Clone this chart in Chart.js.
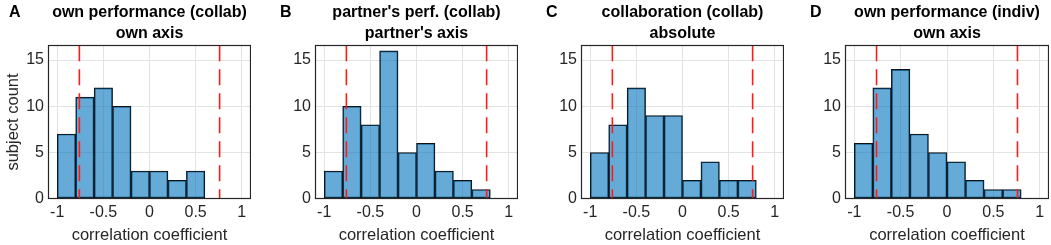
<!DOCTYPE html>
<html>
<head>
<meta charset="utf-8">
<script src="https://cdn.jsdelivr.net/npm/chart.js@4"></script>
<style>
  body { margin: 0; background: #fff; }
  #wrap { position: relative; width: 1051px; height: 245px; }
  #wrap canvas { position: absolute; top: 0; }
</style>
</head>
<body>
<div id="wrap"></div>
<script>
// ── data ──────────────────────────────────────────────
const binCenters = [-0.9, -0.7, -0.5, -0.3, -0.1, 0.1, 0.3, 0.5, 0.7, 0.9];
const countsA = [7, 11, 12, 10, 3, 3, 2, 3, 0, 0];
const countsB = [3, 10, 8, 16, 5, 6, 3, 2, 1, 0];
const countsC = [5, 8, 12, 9, 9, 2, 4, 2, 2, 0];
const countsD = [6, 12, 14, 7, 5, 4, 2, 1, 1, 0];
const thresholds = [-0.76, 0.76];
const xTicks = [-1, -0.5, 0, 0.5, 1];
const yTicks = [0, 5, 10, 15];
const panelLetters = ["A", "B", "C", "D"];
const panelTitles = [
  ["own performance (collab)", "own axis"],
  ["partner's perf. (collab)", "partner's axis"],
  ["collaboration (collab)", "absolute"],
  ["own performance (indiv)", "own axis"],
];
const xLabel = "correlation coefficient";
const yLabel = "subject count";

// ── layout ────────────────────────────────────────────
const panelLeft = [0, 267, 533, 797];
const panelWidth = [251, 251, 251, 252];
const X_MIN = -1.1, X_MAX = 1.1, Y_MAX = 16.6;
const FONT = '"Liberation Sans", Arial, Helvetica, sans-serif';

const frameAndLetter = {
  id: "frameAndLetter",
  afterDraw(chart, args, opts) {
    const { ctx, chartArea: a } = chart;
    ctx.save();
    ctx.strokeStyle = "#262626";
    ctx.lineWidth = 1.2;
    const l = Math.round(a.left) + 0.5, t = Math.round(a.top) + 0.5;
    const r = Math.round(a.right) - 0.5, b = Math.round(a.bottom) - 0.5;
    ctx.strokeRect(l, t, r - l, b - t);
    ctx.font = "bold 16px " + FONT;
    ctx.fillStyle = "#000";
    ctx.textBaseline = "middle";
    ctx.textAlign = "left";
    ctx.fillText(opts.letter, a.left - opts.dx, 13);
    ctx.restore();
  },
};

function makePanel(i, counts) {
  const canvas = document.createElement("canvas");
  canvas.width = panelWidth[i];
  canvas.height = 245;
  canvas.style.left = panelLeft[i] + "px";
  document.getElementById("wrap").appendChild(canvas);

  const lines = thresholds.map((t) => ({
    type: "line",
    data: [{ x: t, y: Y_MAX }, { x: t, y: 0 }],
    borderColor: "#ff1a1a",
    borderWidth: 1.6,
    borderDash: [16, 8],
    pointRadius: 0,
    order: 0,
  }));

  new Chart(canvas, {
    type: "bar",
    data: {
      datasets: [
        {
          data: binCenters.map((c, k) => ({ x: c, y: counts[k] })),
          backgroundColor: "rgba(0, 114, 189, 0.6)",
          borderColor: "#111",
          borderWidth: 1,
          borderSkipped: false,
          barPercentage: 1,
          categoryPercentage: 1,
          order: 1,
        },
        ...lines,
      ],
    },
    options: {
      responsive: false,
      animation: false,
      layout: { padding: 0 },
      scales: {
        x: {
          type: "linear",
          offset: false,
          min: X_MIN,
          max: X_MAX,
          afterBuildTicks: (s) => { s.ticks = xTicks.map((v) => ({ value: v })); },
          afterFit: (s) => { s.height = 46.3; },
          ticks: {
            color: "#262626",
            font: { family: FONT, size: 16 },
            padding: 4.5,
            maxRotation: 0,
            callback: (v) => String(v),
          },
          grid: { color: "#e3e3e3", drawTicks: false, offset: false },
          border: { display: false },
          title: {
            display: true,
            text: xLabel,
            color: "#262626",
            font: { family: FONT, size: 16.5 },
            padding: { top: 0, bottom: 0 },
          },
        },
        y: {
          min: 0,
          max: Y_MAX,
          afterBuildTicks: (s) => { s.ticks = yTicks.map((v) => ({ value: v })); },
          afterFit: (s) => { s.width = 48; },
          ticks: {
            color: "#262626",
            font: { family: FONT, size: 16 },
            padding: 4,
            callback: (v) => String(v),
          },
          grid: { color: "#e3e3e3", drawTicks: false },
          border: { display: false },
          title: {
            display: i === 0,
            text: yLabel,
            color: "#262626",
            font: { family: FONT, size: 16.5 },
            padding: { top: 4, bottom: 0 },
          },
        },
      },
      plugins: {
        legend: { display: false },
        tooltip: { enabled: false },
        title: {
          display: true,
          text: panelTitles[i],
          fullSize: false,
          color: "#000",
          font: { family: FONT, size: 16, weight: "bold", lineHeight: 1.3 },
          padding: { top: 2, bottom: 1.7 },
        },
        frameAndLetter: { letter: panelLetters[i], dx: i === 0 ? 39 : 35 },
      },
    },
    plugins: [frameAndLetter],
  });
}

[countsA, countsB, countsC, countsD].forEach((c, i) => makePanel(i, c));
</script>
</body>
</html>
